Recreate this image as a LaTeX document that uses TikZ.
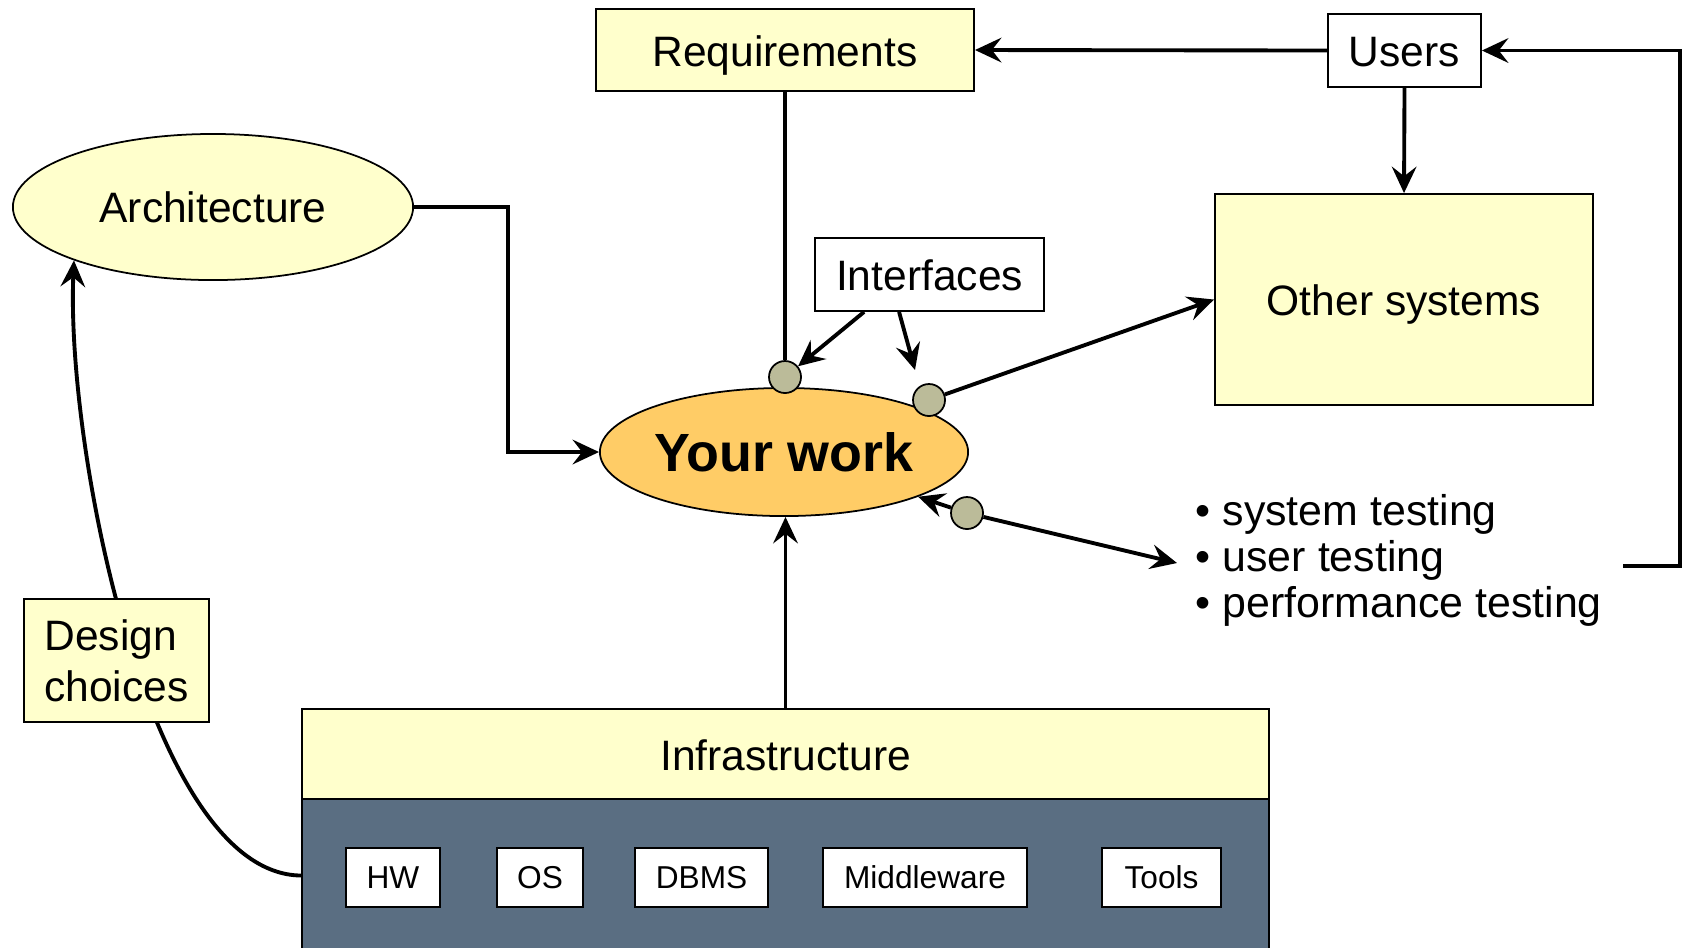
\documentclass[tikz,border=0pt]{standalone}
\usepackage{fontspec}
\setmainfont{Liberation Sans}
\usetikzlibrary{arrows.meta,shapes.geometric,calc}
\definecolor{yel}{HTML}{FFFFCC}
\definecolor{orng}{HTML}{FFCC66}
\definecolor{olv}{HTML}{BBBB99}
\definecolor{slate}{HTML}{5A6E82}
\begin{document}
\begin{tikzpicture}[x=0.01cm,y=-0.01cm,
 txt/.style={font=\fontsize{12.1}{14}\selectfont},
 ybox/.style={draw, line width=0.5pt, fill=yel, inner sep=0pt, txt},
 wbox/.style={draw, line width=0.5pt, fill=white, inner sep=0pt, txt},
 capc/.style={text height=9.3pt, text depth=0pt},
 sbox/.style={draw=black, line width=0.5pt, fill=white, inner sep=0pt, font=\fontsize{9}{11}\selectfont, minimum height=0.59cm},
 dot/.style={circle, draw, line width=0.5pt, fill=olv, minimum size=0.32cm, inner sep=0pt},
 arr/.style={line width=1.1pt, -{Stealth[length=7.5pt,width=7pt,inset=2.7pt]}},
 ln/.style={line width=1.1pt}]
\useasboundingbox (0,0) rectangle (1683,947);

\node[ybox, capc, minimum width=3.78cm, minimum height=0.82cm] (req) at (785,50) {Requirements};
\node[wbox, capc, minimum width=1.53cm, minimum height=0.73cm] (users) at (1404.5,50.5) {Users};
\node[ybox, capc, minimum width=3.78cm, minimum height=2.11cm] (other) at (1404,299.5) {Other systems};
\node[wbox, capc, minimum width=2.29cm, minimum height=0.73cm] (if) at (929.5,274.5) {Interfaces};
\node[ellipse, ybox, minimum width=4cm, minimum height=1.46cm] (arch) at (213,207) {Architecture};
\node[ellipse, draw, line width=0.5pt, fill=orng, minimum width=3.68cm, minimum height=1.28cm, inner sep=0pt, font=\fontsize{15.3}{18}\selectfont\bfseries] (yw) at (784,452) {Your work};
\node[ybox, capc, minimum width=9.67cm, minimum height=0.9cm] (infra) at (785.5,754) {Infrastructure};
\node[draw, line width=0.5pt, fill=slate, minimum width=9.67cm, minimum height=1.53cm, inner sep=0pt] (base) at (785.5,875.5) {};
\node[sbox, minimum width=0.94cm] (hw) at (393,877.5) {HW};
\node[sbox, minimum width=0.86cm] (os) at (540,877.5) {OS};
\node[sbox, minimum width=1.33cm] (dbms) at (701.5,877.5) {DBMS};
\node[sbox, minimum width=2.04cm] (mw) at (925,877.5) {Middleware};
\node[sbox, minimum width=1.19cm] (tools) at (1161.5,877.5) {Tools};

\node[dot] (c1) at (785,377) {};
\node[dot] (c2) at (929,400) {};
\node[dot] (c3) at (967,513) {};

\node[anchor=west, align=left, inner sep=0pt, font=\fontsize{12.2}{13.1}\selectfont] (tests) at (1195,560) {• system testing\\• user testing\\• performance testing};

\draw[ln] (req.south) -- (c1.north);
\draw[arr] (users.west) -- (req.east);
\draw[arr] (users.south) -- (other.north);
\coordinate (loopstart) at (1623,566);
\draw[arr] (loopstart) -- ++(57,0) |- (users.east);
\draw[arr] (arch.east) -- ++(94,0) |- (yw.west);
\draw[arr] ($(if.south west)+(50,0)$) -- (c1);
\coordinate (iftip) at (915,370);
\draw[arr] ($(if.south west)+(85,0)$) -- (iftip);
\draw[arr] (c2) -- (other.west);
\draw[arr] (c3) -- (yw);
\coordinate (testtip) at (1177,563);
\draw[arr] (c3) -- (testtip);
\draw[arr] (infra.north) -- (infra.north |- yw.south);
\draw[arr] (base.west) .. controls (150,874) and (66,450) .. (arch.201);

\node[ybox, font=\fontsize{12.1}{14.5}\selectfont, minimum width=1.85cm, minimum height=1.23cm, align=left] (dc) at (116.5,660.5) {Design\\choices};
\end{tikzpicture}
\end{document}
